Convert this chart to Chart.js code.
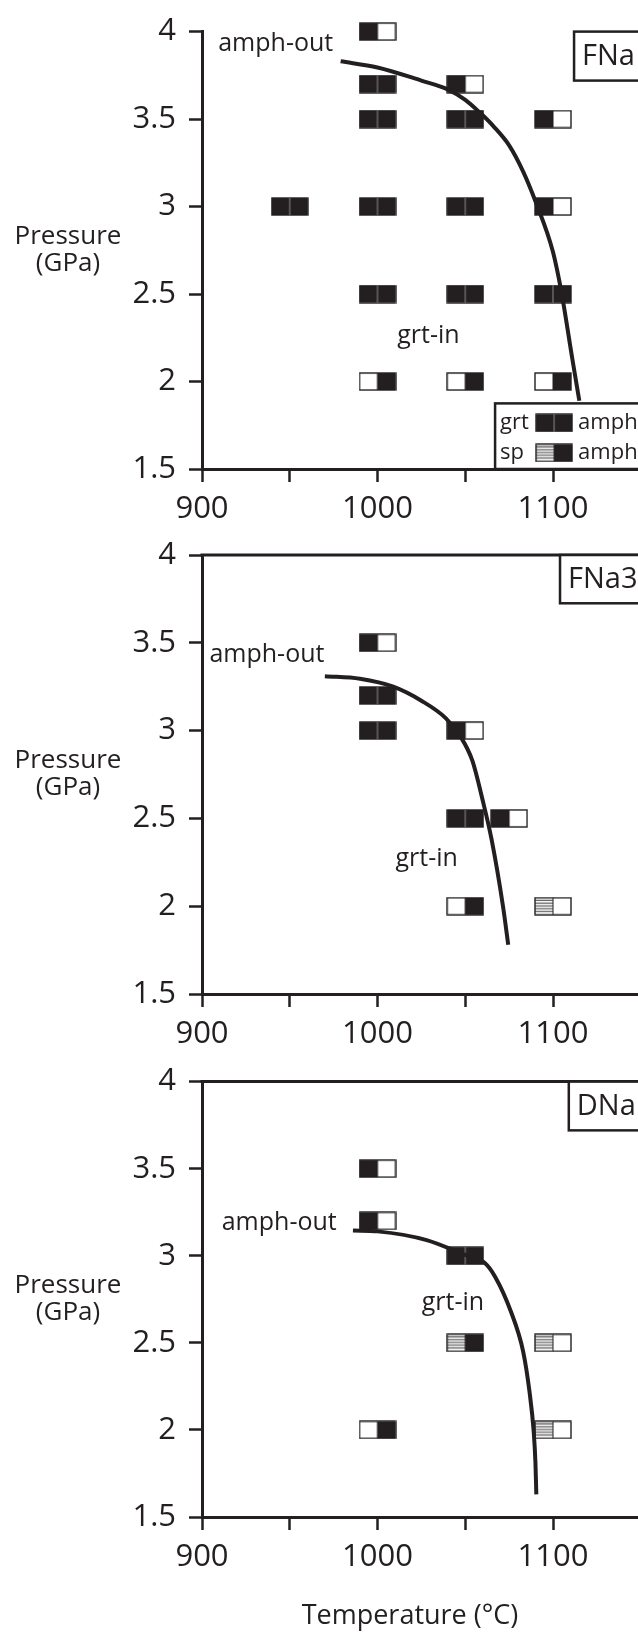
<!DOCTYPE html>
<html>
<head>
<meta charset="utf-8">
<script src="https://cdn.jsdelivr.net/npm/chart.js@4.4.0/dist/chart.umd.min.js"></script>
<style>
  html, body { margin: 0; padding: 0; background: #fff; width: 638px; height: 1635px; overflow: hidden; }
  canvas { position: absolute; left: 0; }
</style>
</head>
<body>
<canvas id="fnaChart" width="700" height="540" style="top:0px"></canvas>
<canvas id="fna3Chart" width="700" height="545" style="top:520px"></canvas>
<canvas id="dnaChart" width="700" height="585" style="top:1050px"></canvas>
<script>
var INK = '#231f20';
var FONT = '"Open Sans", "Noto Sans", sans-serif';

// axes
var tempTicks = [900, 950, 1000, 1050, 1100, 1150];
var presTicks = [1.5, 2, 2.5, 3, 3.5, 4];

// FNa runs (grt: grt / sp / -, amph: amph / -)
var fnaTemp = [1000, 1000, 1050, 1000, 1050, 1100, 950, 1000, 1050, 1100, 1000, 1050, 1100, 1000, 1050, 1100];
var fnaPres = [4.0, 3.7, 3.7, 3.5, 3.5, 3.5, 3.0, 3.0, 3.0, 3.0, 2.5, 2.5, 2.5, 2.0, 2.0, 2.0];
var fnaGrt  = ['grt', 'grt', 'grt', 'grt', 'grt', 'grt', 'grt', 'grt', 'grt', 'grt', 'grt', 'grt', 'grt', '-', '-', '-'];
var fnaAmph = ['-', 'amph', '-', 'amph', 'amph', '-', 'amph', 'amph', 'amph', '-', 'amph', 'amph', 'amph', 'amph', 'amph', 'amph'];
var fnaCurveT = [979, 1000, 1025, 1040, 1050, 1058, 1066, 1075, 1083, 1090, 1100, 1105, 1111, 1115];
var fnaCurveP = [3.83, 3.795, 3.72, 3.67, 3.61, 3.54, 3.46, 3.35, 3.2, 3.03, 2.74, 2.5, 2.13, 1.89];

// FNa3 runs
var fna3Temp = [1000, 1000, 1000, 1050, 1050, 1075, 1050, 1100];
var fna3Pres = [3.5, 3.2, 3.0, 3.0, 2.5, 2.5, 2.0, 2.0];
var fna3Grt  = ['grt', 'grt', 'grt', 'grt', 'grt', 'grt', '-', 'sp'];
var fna3Amph = ['-', 'amph', 'amph', '-', 'amph', '-', 'amph', '-'];
var fna3CurveT = [970, 990, 1009, 1025, 1039, 1047, 1054, 1060, 1065, 1071.5, 1074.5];
var fna3CurveP = [3.31, 3.295, 3.25, 3.17, 3.07, 2.97, 2.83, 2.6, 2.38, 2.0, 1.78];

// DNa runs
var dnaTemp = [1000, 1000, 1050, 1050, 1100, 1000, 1100];
var dnaPres = [3.5, 3.2, 3.0, 2.5, 2.5, 2.0, 2.0];
var dnaGrt  = ['grt', 'grt', 'grt', 'sp', 'sp', '-', 'sp'];
var dnaAmph = ['-', '-', 'amph', 'amph', '-', 'amph', '-'];
var dnaCurveT = [986, 1000, 1028, 1051, 1061, 1067, 1076, 1083, 1086.6, 1089, 1090, 1090.5];
var dnaCurveP = [3.145, 3.14, 3.09, 3.0, 2.96, 2.88, 2.68, 2.45, 2.22, 1.99, 1.81, 1.63];

// marker glyph: left half = garnet / spinel / none, right half = amphibole
function makeMarker(left, right) {
  var c = document.createElement('canvas');
  c.width = 38; c.height = 19;
  var g = c.getContext('2d');
  var W = 18, H = 17, x0 = 1, y0 = 1;
  g.fillStyle = '#fff';
  g.fillRect(x0, y0, 2 * W, H);
  g.fillStyle = INK;
  if (left === 'grt') g.fillRect(x0, y0, W, H);
  if (left === 'sp') {
    g.strokeStyle = INK; g.lineWidth = 0.9;
    for (var yy = y0 + 2.5; yy < y0 + H - 1; yy += 2.8) {
      g.beginPath(); g.moveTo(x0, yy); g.lineTo(x0 + W, yy); g.stroke();
    }
  }
  if (right === 'amph') g.fillRect(x0 + W, y0, W, H);
  g.strokeStyle = INK; g.lineWidth = 1.4;
  g.strokeRect(x0, y0, 2 * W, H);
  g.beginPath(); g.moveTo(x0 + W, y0); g.lineTo(x0 + W, y0 + H);
  g.strokeStyle = (left === 'grt' && right === 'amph') ? '#8a8a8a' : INK;
  g.lineWidth = 1; g.stroke();
  return c;
}
var markers = {};
['grt', 'sp', '-'].forEach(function (l) {
  ['amph', '-'].forEach(function (r) { markers[l + '|' + r] = makeMarker(l, r); });
});

function pts(T, P) {
  return T.map(function (t, i) { return { x: t, y: P[i] }; });
}

// boxes, labels and axis titles drawn on top of the chart
function decoPlugin(cfg) {
  return {
    id: 'deco',
    afterDraw: function (chart) {
      var ctx = chart.ctx, a = chart.chartArea, x = chart.scales.x, y = chart.scales.y;
      ctx.save();
      ctx.fillStyle = INK; ctx.strokeStyle = INK;
      if (cfg.topLine) {
        ctx.lineWidth = 3;
        ctx.beginPath(); ctx.moveTo(a.left - 1.5, a.top); ctx.lineTo(a.right + 10, a.top); ctx.stroke();
      }
      // sample name box
      var bx = x.getPixelForValue(cfg.boxT), by1 = y.getPixelForValue(cfg.boxP);
      ctx.fillStyle = '#fff'; ctx.fillRect(bx, a.top, 200, by1 - a.top);
      ctx.fillStyle = INK; ctx.lineWidth = 2.5;
      ctx.strokeRect(bx, a.top, 200, by1 - a.top);
      ctx.font = '29px ' + FONT; ctx.textAlign = 'left'; ctx.textBaseline = 'middle';
      ctx.fillText(cfg.name, bx + 8, (a.top + by1) / 2 + 1);
      // curve labels
      ctx.font = '25px ' + FONT; ctx.textAlign = 'center';
      cfg.labels.forEach(function (l) {
        ctx.fillText(l.text, x.getPixelForValue(l.t), y.getPixelForValue(l.p));
      });
      // y title
      ctx.font = '26px ' + FONT;
      ctx.fillText('Pressure', 68, y.getPixelForValue(2.83));
      ctx.fillText('(GPa)', 68, y.getPixelForValue(2.675));
      if (cfg.xTitle) {
        ctx.font = '27px ' + FONT;
        ctx.fillText('Temperature (\u00B0C)', x.getPixelForValue(1018.5), a.bottom + 99);
      }
      if (cfg.legend) {
        var lx = x.getPixelForValue(1067), ly = y.getPixelForValue(1.875);
        ctx.fillStyle = '#fff'; ctx.fillRect(lx, ly, 200, a.bottom - ly);
        ctx.fillStyle = INK; ctx.lineWidth = 2.5;
        ctx.strokeRect(lx, ly, 200, a.bottom - ly);
        ctx.font = '22px ' + FONT; ctx.textAlign = 'left';
        ctx.fillText('grt', lx + 5, ly + 19);
        ctx.drawImage(markers['grt|amph'], lx + 40, ly + 10);
        ctx.fillText('amph', lx + 83, ly + 19);
        ctx.fillText('sp', lx + 5, ly + 49);
        ctx.drawImage(markers['sp|amph'], lx + 40, ly + 40);
        ctx.fillText('amph', lx + 83, ly + 49);
      }
      ctx.restore();
    }
  };
}

function buildChart(id, runT, runP, grt, amph, curveT, curveP, padTop, axisH, cfg) {
  var ctx = document.getElementById(id).getContext('2d');
  return new Chart(ctx, {
    type: 'scatter',
    data: {
      datasets: [
        {
          data: pts(curveT, curveP),
          showLine: true,
          borderColor: INK,
          borderWidth: 4,
          pointRadius: 0,
          cubicInterpolationMode: 'monotone',
          fill: false
        },
        {
          data: pts(runT, runP),
          pointStyle: function (c) { return markers[grt[c.dataIndex] + '|' + amph[c.dataIndex]]; },
          clip: false
        }
      ]
    },
    options: {
      responsive: false,
      animation: false,
      events: [],
      layout: { padding: { top: padTop, right: 59.25, left: 0, bottom: 0 } },
      plugins: { legend: { display: false }, tooltip: { enabled: false } },
      scales: {
        x: {
          type: 'linear',
          min: tempTicks[0],
          max: tempTicks[tempTicks.length - 1],
          afterBuildTicks: function (s) { s.ticks = tempTicks.map(function (v) { return { value: v }; }); },
          ticks: {
            autoSkip: false, maxRotation: 0, color: INK, padding: 9,
            font: { family: FONT, size: 31 },
            callback: function (v) { return v % 100 === 0 ? String(v) : ''; }
          },
          grid: { drawOnChartArea: false, tickLength: 13, tickWidth: 2.5, tickColor: INK },
          border: { color: INK, width: 3 },
          afterFit: function (s) { s.height = axisH; }
        },
        y: {
          type: 'linear',
          min: presTicks[0],
          max: presTicks[presTicks.length - 1],
          afterBuildTicks: function (s) { s.ticks = presTicks.map(function (v) { return { value: v }; }); },
          ticks: {
            color: INK, padding: 13,
            font: { family: FONT, size: 31 },
            callback: function (v) { return String(v); }
          },
          grid: { drawOnChartArea: false, tickLength: 13, tickWidth: 2.5, tickColor: INK },
          border: { color: INK, width: 3 },
          afterFit: function (s) { s.width = 202; }
        }
      }
    },
    plugins: [decoPlugin(cfg)]
  });
}

buildChart('fnaChart', fnaTemp, fnaPres, fnaGrt, fnaAmph, fnaCurveT, fnaCurveP, 29, 71, {
  name: 'FNa', boxT: 1112, boxP: 3.72, topLine: false, legend: true,
  labels: [{ text: 'amph-out', t: 942, p: 3.93 }, { text: 'grt-in', t: 1029, p: 2.26 }]
});
buildChart('fna3Chart', fna3Temp, fna3Pres, fna3Grt, fna3Amph, fna3CurveT, fna3CurveP, 35, 71, {
  name: 'FNa3', boxT: 1104, boxP: 3.725, topLine: true,
  labels: [{ text: 'amph-out', t: 937, p: 3.43 }, { text: 'grt-in', t: 1028, p: 2.27 }]
});
buildChart('dnaChart', dnaTemp, dnaPres, dnaGrt, dnaAmph, dnaCurveT, dnaCurveP, 28, 118, {
  name: 'DNa', boxT: 1109, boxP: 3.72, topLine: true, xTitle: true,
  labels: [{ text: 'amph-out', t: 944, p: 3.19 }, { text: 'grt-in', t: 1043, p: 2.73 }]
});
</script>
</body>
</html>
